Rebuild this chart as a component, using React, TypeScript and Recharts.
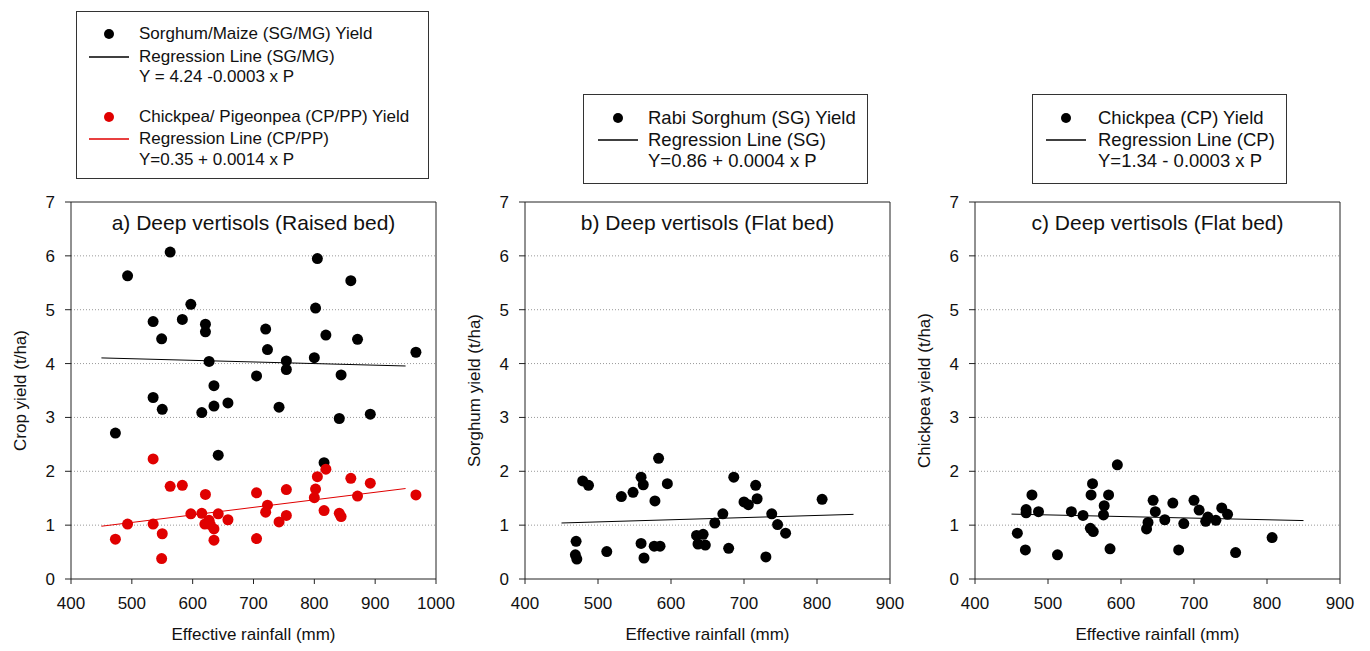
import React from 'react';
import { ScatterChart, Scatter, XAxis, YAxis, ReferenceLine } from 'recharts';

// panel a) raised bed
const rainSgMg = [473, 493, 563, 535, 549, 535, 550, 583, 597, 621, 621, 627, 635, 635, 615, 658, 642, 705, 720, 723, 742, 754, 754, 800, 802, 805, 819, 844, 841, 860, 871, 892, 816, 967];
const yieldSgMg = [2.71, 5.63, 6.07, 4.78, 4.46, 3.37, 3.15, 4.82, 5.1, 4.73, 4.59, 4.04, 3.59, 3.21, 3.09, 3.27, 2.3, 3.77, 4.64, 4.26, 3.19, 4.05, 3.89, 4.11, 5.03, 5.95, 4.53, 3.79, 2.98, 5.54, 4.45, 3.06, 2.16, 4.21];
const rainCpPp = [473, 493, 535, 535, 550, 549, 563, 583, 597, 615, 621, 620, 627, 629, 635, 635, 642, 658, 705, 705, 720, 723, 742, 754, 754, 800, 802, 805, 819, 816, 841, 844, 860, 871, 892, 967];
const yieldCpPp = [0.74, 1.02, 2.23, 1.02, 0.84, 0.38, 1.72, 1.74, 1.21, 1.22, 1.57, 1.02, 1.09, 1.01, 0.93, 0.72, 1.21, 1.1, 1.6, 0.75, 1.24, 1.37, 1.06, 1.66, 1.18, 1.51, 1.67, 1.9, 2.04, 1.27, 1.22, 1.16, 1.87, 1.54, 1.78, 1.56];

// panel b) flat bed, rabi sorghum
const rainSg = [470, 469, 471, 479, 487, 512, 532, 548, 559, 562, 559, 563, 578, 577, 585, 583, 595, 635, 637, 644, 647, 660, 671, 679, 686, 700, 706, 716, 718, 730, 738, 746, 757, 807];
const yieldSg = [0.7, 0.45, 0.37, 1.82, 1.74, 0.51, 1.53, 1.61, 1.89, 1.75, 0.66, 0.39, 1.45, 0.61, 0.61, 2.24, 1.77, 0.81, 0.65, 0.83, 0.63, 1.04, 1.21, 0.57, 1.89, 1.43, 1.38, 1.74, 1.49, 0.41, 1.21, 1.01, 0.85, 1.48];

// panel c) flat bed, chickpea
const rainCp = [458, 469, 470, 470, 478, 487, 513, 532, 548, 559, 561, 558, 562, 577, 576, 583, 585, 595, 635, 637, 644, 647, 660, 671, 679, 686, 700, 707, 716, 719, 730, 738, 746, 757, 807];
const yieldCp = [0.85, 0.54, 1.29, 1.23, 1.56, 1.25, 0.45, 1.25, 1.18, 1.56, 1.77, 0.94, 0.88, 1.36, 1.19, 1.56, 0.56, 2.12, 0.93, 1.05, 1.46, 1.25, 1.1, 1.41, 0.54, 1.03, 1.46, 1.28, 1.07, 1.15, 1.09, 1.32, 1.2, 0.49, 0.77];

// regression lines Y = a + b * P
const regSgMg = { a: 4.24, b: -0.0003, from: 450, to: 950 };
const regCpPp = { a: 0.35, b: 0.0014, from: 450, to: 950 };
const regSg = { a: 0.86, b: 0.0004, from: 450, to: 850 };
const regCp = { a: 1.34, b: -0.0003, from: 450, to: 850 };

const xTicksWide = [400, 500, 600, 700, 800, 900, 1000];
const xTicksNarrow = [400, 500, 600, 700, 800, 900];
const yTicks = [0, 1, 2, 3, 4, 5, 6, 7];
const gridValues = [1, 2, 3, 4, 5, 6];

const FONT = '"Liberation Sans", Arial, sans-serif';
const INK = '#111';
const RED = '#e00000';

const zip = (xs: number[], ys: number[]) => xs.map((x, i) => ({ x, y: ys[i] }));
const segment = (r: { a: number; b: number; from: number; to: number }) => [
  { x: r.from, y: r.a + r.b * r.from },
  { x: r.to, y: r.a + r.b * r.to },
];

const dot = (color: string) => (p: any) => <circle cx={p.cx} cy={p.cy} r={5.5} fill={color} />;

type Series = { xs: number[]; ys: number[]; color: string; reg: { a: number; b: number; from: number; to: number } };

const Panel = ({ left, title, yLabel, ticks, series }: { left: number; title: string; yLabel: string; ticks: number[]; series: Series[] }) => {
  const xMax = ticks[ticks.length - 1];
  return (
    <div style={{ position: 'absolute', left, top: 180 }}>
      <ScatterChart width={460} height={471} margin={{ top: 22, right: 24, bottom: 0, left: 0 }}>
        {gridValues.map((v) => (
          <ReferenceLine key={v} y={v} stroke="#999" strokeDasharray="1 2" />
        ))}
        <XAxis
          type="number"
          dataKey="x"
          domain={[400, xMax]}
          ticks={ticks}
          height={72}
          tickSize={5}
          tickMargin={13}
          stroke="#222"
          tick={{ fontSize: 17, fill: INK }}
          label={{ value: 'Effective rainfall (mm)', position: 'insideBottom', offset: 11, fontSize: 17, fill: INK }}
        />
        <YAxis
          type="number"
          dataKey="y"
          domain={[0, 7]}
          ticks={yTicks}
          width={71}
          tickSize={6}
          tickMargin={10}
          stroke="#222"
          tick={{ fontSize: 17, fill: INK }}
          label={{
            content: (p: any) => {
              const vb = p.viewBox;
              const cx = vb.x + 20;
              const cy = vb.y + vb.height / 2;
              return (
                <text x={cx} y={cy} transform={`rotate(-90, ${cx}, ${cy})`} textAnchor="middle" dominantBaseline="central" fontSize={17} fill={INK}>
                  {yLabel}
                </text>
              );
            },
          }}
        />
        <ReferenceLine y={7} stroke="#222" />
        <ReferenceLine x={xMax} stroke="#222" />
        {series.map((s, i) => (
          <ReferenceLine key={'r' + i} segment={segment(s.reg)} stroke={s.color} strokeWidth={1} ifOverflow="visible" />
        ))}
        {series.map((s, i) => (
          <Scatter key={'s' + i} data={zip(s.xs, s.ys)} fill={s.color} shape={dot(s.color)} isAnimationActive={false} />
        ))}
      </ScatterChart>
      <div style={{ position: 'absolute', left: 71, width: 365, top: 30, textAlign: 'center', fontSize: 21, color: INK, lineHeight: '26px' }}>
        {title}
      </div>
    </div>
  );
};

type Row = { y: number; text: string; mark?: 'dot' | 'line'; color?: string };

const LegendBox = ({ left, top, width, height, markX, textX, fontSize, rows }: { left: number; top: number; width: number; height: number; markX: number; textX: number; fontSize: number; rows: Row[] }) => (
  <div style={{ position: 'absolute', left, top, width, height, boxSizing: 'border-box', border: '1px solid #333', background: '#fff' }}>
    {rows.map((r, i) => (
      <React.Fragment key={i}>
        {r.mark === 'dot' && (
          <div style={{ position: 'absolute', left: markX - 5, top: r.y - 5, width: 10, height: 10, borderRadius: 5, background: r.color }} />
        )}
        {r.mark === 'line' && (
          <svg style={{ position: 'absolute', left: markX - 20, top: r.y - 2 }} width={40} height={4}>
            <line x1={0} y1={2} x2={40} y2={2} stroke={r.color} strokeWidth={1.3} />
          </svg>
        )}
        <div style={{ position: 'absolute', left: textX, top: r.y - 10, lineHeight: '20px', fontSize, color: INK, whiteSpace: 'nowrap' }}>
          {r.text}
        </div>
      </React.Fragment>
    ))}
  </div>
);

export default function App() {
  return (
    <div style={{ position: 'absolute', left: 0, top: 0, width: 1370, height: 651, background: '#fff', fontFamily: FONT }}>
      <LegendBox
        left={76}
        top={11}
        width={353}
        height={168}
        markX={32}
        textX={62}
        fontSize={17}
        rows={[
          { y: 22, text: 'Sorghum/Maize (SG/MG) Yield', mark: 'dot', color: '#000' },
          { y: 45, text: 'Regression Line (SG/MG)', mark: 'line', color: '#000' },
          { y: 65, text: 'Y = 4.24 -0.0003 x P' },
          { y: 105, text: 'Chickpea/ Pigeonpea (CP/PP) Yield', mark: 'dot', color: RED },
          { y: 127, text: 'Regression Line (CP/PP)', mark: 'line', color: RED },
          { y: 148, text: 'Y=0.35 + 0.0014 x P' },
        ]}
      />
      <LegendBox
        left={583}
        top={94}
        width={285}
        height={90}
        markX={34}
        textX={64}
        fontSize={18.5}
        rows={[
          { y: 23, text: 'Rabi Sorghum (SG) Yield', mark: 'dot', color: '#000' },
          { y: 45, text: 'Regression Line (SG)', mark: 'line', color: '#000' },
          { y: 66, text: 'Y=0.86 + 0.0004 x P' },
        ]}
      />
      <LegendBox
        left={1032}
        top={94}
        width={255}
        height={90}
        markX={33}
        textX={65}
        fontSize={18.5}
        rows={[
          { y: 23, text: 'Chickpea (CP) Yield', mark: 'dot', color: '#000' },
          { y: 45, text: 'Regression Line (CP)', mark: 'line', color: '#000' },
          { y: 66, text: 'Y=1.34 - 0.0003 x P' },
        ]}
      />
      <Panel
        left={0}
        title="a) Deep vertisols (Raised bed)"
        yLabel="Crop yield (t/ha)"
        ticks={xTicksWide}
        series={[
          { xs: rainSgMg, ys: yieldSgMg, color: '#000', reg: regSgMg },
          { xs: rainCpPp, ys: yieldCpPp, color: RED, reg: regCpPp },
        ]}
      />
      <Panel
        left={454}
        title="b) Deep vertisols (Flat bed)"
        yLabel="Sorghum yield (t/ha)"
        ticks={xTicksNarrow}
        series={[{ xs: rainSg, ys: yieldSg, color: '#000', reg: regSg }]}
      />
      <Panel
        left={904}
        title="c) Deep vertisols (Flat bed)"
        yLabel="Chickpea yield (t/ha)"
        ticks={xTicksNarrow}
        series={[{ xs: rainCp, ys: yieldCp, color: '#000', reg: regCp }]}
      />
    </div>
  );
}
